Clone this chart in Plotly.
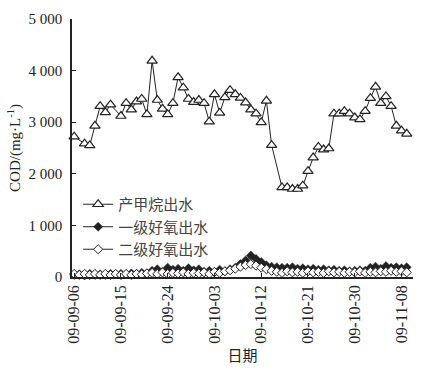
import plotly.graph_objects as go
import pandas as pd

start = pd.Timestamp("2009-09-06")

# 产甲烷出水 (day offset, COD)
ch4_days = [0, 2, 3, 4, 5, 6, 7, 9, 10, 11, 12, 13, 14, 15, 16, 17, 18, 19, 20, 21, 22, 23, 24, 25,
            26, 27, 28, 29, 30, 31, 32, 33, 34, 35, 36, 37, 38, 40, 41, 42, 43, 44, 45, 46, 47, 48,
            49, 50, 51, 52, 53, 54, 55, 56, 57, 58, 59, 60, 61, 62, 63, 64]
ch4_vals = [2720, 2585, 2550, 2930, 3310, 3190, 3340, 3120, 3370, 3245, 3400, 3450, 3150, 4190,
            3430, 3260, 3150, 3370, 3870, 3670, 3450, 3390, 3430, 3370, 3010, 3540, 3180, 3480,
            3620, 3540, 3470, 3380, 3245, 3165, 2995, 3415, 2555, 1735, 1735, 1705, 1705, 1770,
            2050, 2315, 2520, 2470, 2490, 3165, 3165, 3215, 3165, 3090, 3055, 3215, 3465, 3685,
            3370, 3500, 3310, 2930, 2835, 2775]

aer_days = list(range(0, 65))
# 一级好氧出水
aer1_vals = [40, 50, 30, 60, 40, 50, 40, 60, 50, 60, 50, 70, 60, 80, 70,
             120, 150, 100, 180, 140, 160, 120, 170, 130, 150, 100, 120, 90, 140, 110,
             150, 180, 250, 320, 415, 350, 290, 225, 200, 190, 180,
             180, 190, 160, 170, 150, 160, 140, 150, 130, 140,
             120, 130, 110, 120, 130, 120,
             180, 200, 160, 210, 180, 190, 170, 190]
# 二级好氧出水
aer2_vals = [60, 40, 60, 40, 60, 40, 60, 40, 60, 40, 60, 40, 60, 50, 70,
             80, 60, 90, 60, 80, 70, 90, 60, 80, 70, 90, 60, 100, 80, 110,
             130, 160, 200, 230, 250, 220, 180, 150, 120,
             100, 80, 110, 90, 100, 80, 110, 90, 100, 80, 110, 90, 100, 80, 100, 90,
             110, 80, 100, 90, 110, 100, 120, 100, 110, 90]

tick_dates = ["2009-09-06", "2009-09-15", "2009-09-24", "2009-10-03",
              "2009-10-12", "2009-10-21", "2009-10-30", "2009-11-08"]
tick_text = ["09-09-06", "09-09-15", "09-09-24", "09-10-03",
             "09-10-12", "09-10-21", "09-10-30", "09-11-08"]
y_ticks = [0, 1000, 2000, 3000, 4000, 5000]
y_text = ["0", "1 000", "2 000", "3 000", "4 000", "5 000"]

def to_dates(days):
    return [start + pd.Timedelta(days=d) for d in days]

FONT = "Liberation Serif"
CJK = "Noto Sans CJK SC"
INK = "#222222"

fig = go.Figure()
fig.add_trace(go.Scatter(
    x=to_dates(ch4_days), y=ch4_vals, mode="lines+markers", name="产甲烷出水",
    line=dict(color=INK, width=1),
    marker=dict(symbol="triangle-up", size=9, color="white", line=dict(color=INK, width=1.2)),
    cliponaxis=False))
fig.add_trace(go.Scatter(
    x=to_dates(aer_days), y=aer1_vals, mode="lines+markers", name="一级好氧出水",
    line=dict(color=INK, width=1),
    marker=dict(symbol="diamond", size=7, color=INK, line=dict(color=INK, width=0.5)),
    cliponaxis=False))
fig.add_trace(go.Scatter(
    x=to_dates(aer_days), y=aer2_vals, mode="lines+markers", name="二级好氧出水",
    line=dict(color=INK, width=1),
    marker=dict(symbol="diamond", size=7, color="white", line=dict(color=INK, width=1)),
    cliponaxis=False))

fig.update_layout(
    width=424, height=370,
    margin=dict(l=72, r=11, t=12, b=93),
    paper_bgcolor="white", plot_bgcolor="white",
    font=dict(family=FONT, size=15, color=INK),
    showlegend=True,
    legend=dict(x=0.018, y=0.345, xanchor="left", yanchor="top",
                bgcolor="rgba(0,0,0,0)", font=dict(size=15, family=CJK, color="#444444"),
                tracegroupgap=0, itemwidth=30),
    xaxis=dict(
        type="date",
        range=["2009-09-05 14:00", "2009-11-10 05:00"],
        tickmode="array", tickvals=tick_dates, ticktext=tick_text,
        tickangle=-90, ticks="inside", ticklen=4, tickcolor=INK,
        showline=True, linecolor=INK, linewidth=1.5, mirror=False,
        showgrid=False, zeroline=False,
        tickfont=dict(size=16, family=FONT, color=INK),
        title=dict(text="日期", font=dict(size=15, family=CJK, color=INK), standoff=4),
    ),
    yaxis=dict(
        range=[0, 5000],
        tickmode="array", tickvals=y_ticks, ticktext=y_text,
        ticks="inside", ticklen=4, tickcolor=INK,
        showline=True, linecolor=INK, linewidth=1.5,
        showgrid=False, zeroline=False,
        tickfont=dict(size=15, family=FONT, color=INK),
        ticklabelstandoff=5,
        title=dict(text="COD/(mg·L<sup>-1</sup>)", font=dict(size=15, family=FONT, color=INK), standoff=4),
    ),
)

fig.write_html("out.html")
